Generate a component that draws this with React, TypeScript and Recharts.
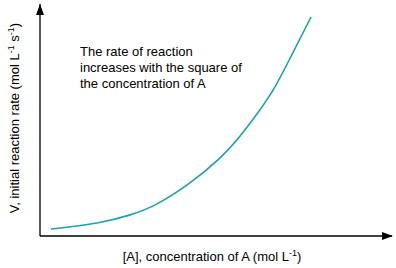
import { LineChart, Line, XAxis, YAxis, ReferenceDot } from 'recharts'

// concentration of A (arbitrary units) and the initial rate
const concentration = [0.31, 1.62, 2.56, 3.27, 4.18, 5.11, 5.68, 6.11, 6.59, 7.05, 7.7]
const rate = [0.3, 0.56, 0.91, 1.34, 2.2, 3.36, 4.3, 5.15, 6.21, 7.5, 9.44]
const noteLines = ['The rate of reaction', 'increases with the square of', 'the concentration of A']

const data = concentration.map((c, i) => ({ c, v: rate[i] }))
const font = '"Liberation Sans", Arial, sans-serif'

const UpArrow = (p: any) => (
  <path d={`M${p.cx},${p.cy} L${p.cx - 4},${p.cy + 11} L${p.cx + 4},${p.cy + 11} Z`} fill="#000" />
)
const RightArrow = (p: any) => (
  <path d={`M${p.cx + 1},${p.cy} L${p.cx - 10},${p.cy - 4} L${p.cx - 10},${p.cy + 4} Z`} fill="#000" />
)

const XLabel = (p: any) => {
  const vb = p.viewBox
  return (
    <text x={vb.x + vb.width / 2 - 4} y={vb.y + 25} textAnchor="middle" fontSize={13} fontFamily={font} fill="#000">
      [A], concentration of A (mol L
      <tspan fontSize={9} dy={-5}>-1</tspan>
      <tspan dy={5}>)</tspan>
    </text>
  )
}

const YLabel = (p: any) => {
  const vb = p.viewBox
  const cx = 19
  const cy = vb.y + vb.height / 2 - 2
  return (
    <text x={cx} y={cy} transform={`rotate(-90 ${cx} ${cy})`} textAnchor="middle" fontSize={13} fontFamily={font} fill="#000">
      V, initial reaction rate (mol L
      <tspan fontSize={9} dy={-5}>-1</tspan>
      <tspan dy={5}> s</tspan>
      <tspan fontSize={9} dy={-5}>-1</tspan>
      <tspan dy={5}>)</tspan>
    </text>
  )
}

export default function App() {
  return (
    <div style={{ position: 'absolute', left: 0, top: 0, width: 396, height: 268, background: '#fff' }}>
      <LineChart width={396} height={268} data={data} margin={{ top: 4, right: 4, left: 0, bottom: 0 }}>
        <XAxis
          type="number"
          dataKey="c"
          domain={[0, 10]}
          height={32}
          tick={false}
          tickLine={false}
          axisLine={{ stroke: '#000', strokeWidth: 1.3 }}
          label={<XLabel />}
        />
        <YAxis
          type="number"
          domain={[0, 10]}
          width={40}
          tick={false}
          tickLine={false}
          axisLine={{ stroke: '#000', strokeWidth: 1.3 }}
          label={<YLabel />}
        />
        <Line
          type="natural"
          dataKey="v"
          stroke="#1aa3a3"
          strokeWidth={1.6}
          dot={false}
          isAnimationActive={false}
        />
        <ReferenceDot x={0} y={10} r={0} ifOverflow="visible" shape={<UpArrow />} />
        <ReferenceDot x={10} y={0} r={0} ifOverflow="visible" shape={<RightArrow />} />
      </LineChart>
      <div
        style={{
          position: 'absolute',
          left: 80,
          top: 44,
          fontFamily: font,
          fontSize: 13,
          lineHeight: '16px',
          color: '#000',
          whiteSpace: 'nowrap',
        }}
      >
        {noteLines.map((l) => (
          <div key={l}>{l}</div>
        ))}
      </div>
    </div>
  )
}
